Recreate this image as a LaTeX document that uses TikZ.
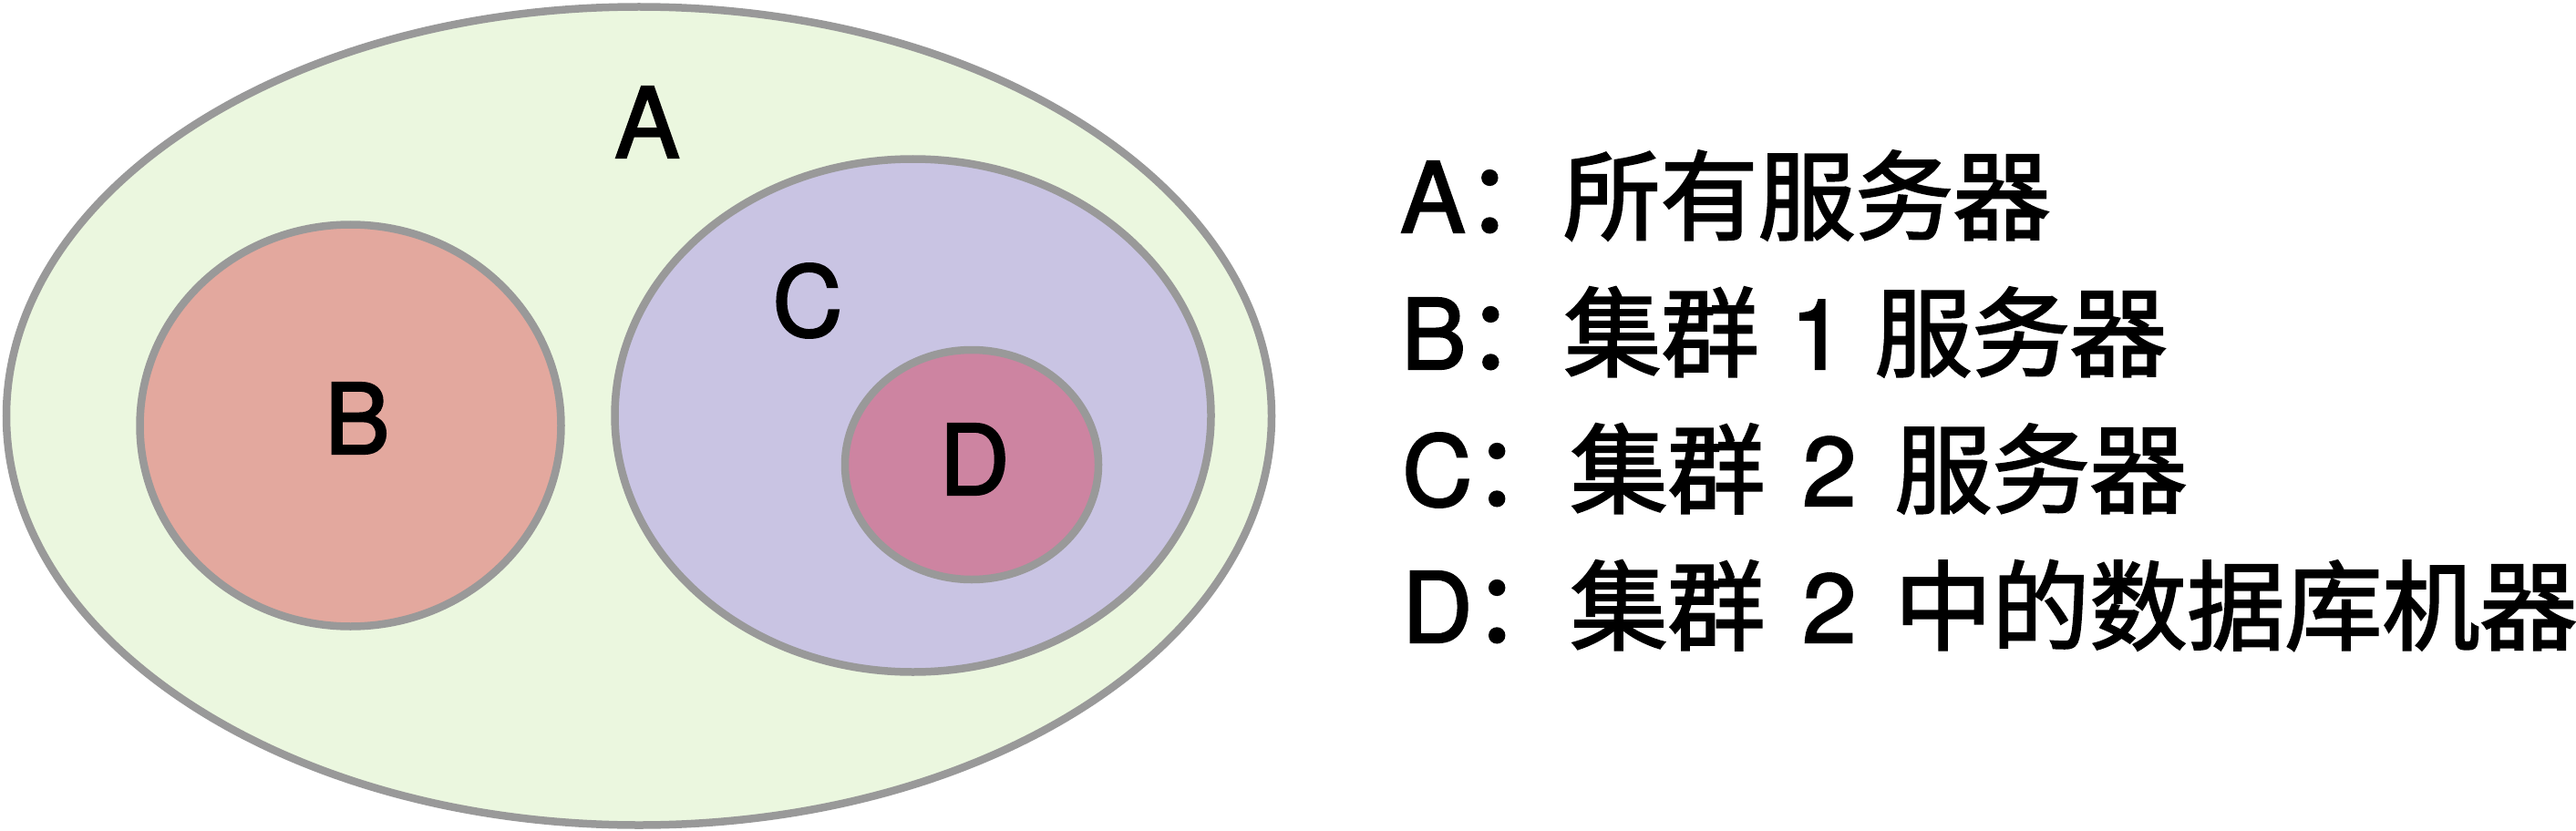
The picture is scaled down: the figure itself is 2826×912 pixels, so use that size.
\documentclass[tikz,border=0pt]{standalone}
\usepackage{fontspec}
\setmainfont{TeX Gyre Heros}[FakeBold=2]
\newfontfamily\cjk{Noto Sans CJK SC}[FakeBold=2]
\usetikzlibrary{shapes.geometric}
\definecolor{stroke}{HTML}{999999}
\definecolor{fillA}{HTML}{EBF7DF}
\definecolor{fillB}{HTML}{E3A89E}
\definecolor{fillC}{HTML}{C9C4E3}
\definecolor{fillD}{HTML}{CD84A1}
\tikzset{
  setbox/.style={ellipse, draw=stroke, line width=8.5pt, inner sep=0pt},
  setlabel/.style={anchor=base, inner sep=0pt, font=\fontsize{107}{128}\selectfont},
  legend/.style={anchor=base west, inner sep=0pt, font=\fontsize{107}{128}\selectfont}
}
\begin{document}
\begin{tikzpicture}[x=1pt, y=-1pt]
\useasboundingbox (0,0) rectangle (2826,912);
\node[setbox, fill=fillA, minimum width=1388pt, minimum height=898pt] (setA) at (701,456.5) {};
\node[setbox, fill=fillB, minimum width=462pt, minimum height=441pt] (setB) at (384.5,467) {};
\node[setbox, fill=fillC, minimum width=654pt, minimum height=563pt] (setC) at (1001.5,456) {};
\node[setbox, fill=fillD, minimum width=278pt, minimum height=252pt] (setD) at (1066,510) {};
\node[setlabel] (labA) at (710,173) {A};
\node[setlabel] (labB) at (392,498) {B};
\node[setlabel] (labC) at (886,369) {C};
\node[setlabel] (labD) at (1069,543) {D};
\node[legend] (legA) at (1536,255) {A{\cjk ：所有服务器}};
\node[legend] (legB) at (1537,405) {B{\cjk ：集群} \hspace{5pt}1\hspace{3pt} {\cjk 服务器}};
\node[legend] (legC) at (1538,555) {C{\cjk ：集群} \hspace{11pt}2\hspace{12pt} {\cjk 服务器}};
\node[legend] (legD) at (1538,705) {D{\cjk ：集群} \hspace{11pt}2\hspace{12pt} {\cjk 中的数据库机器}};
\end{tikzpicture}
\end{document}
